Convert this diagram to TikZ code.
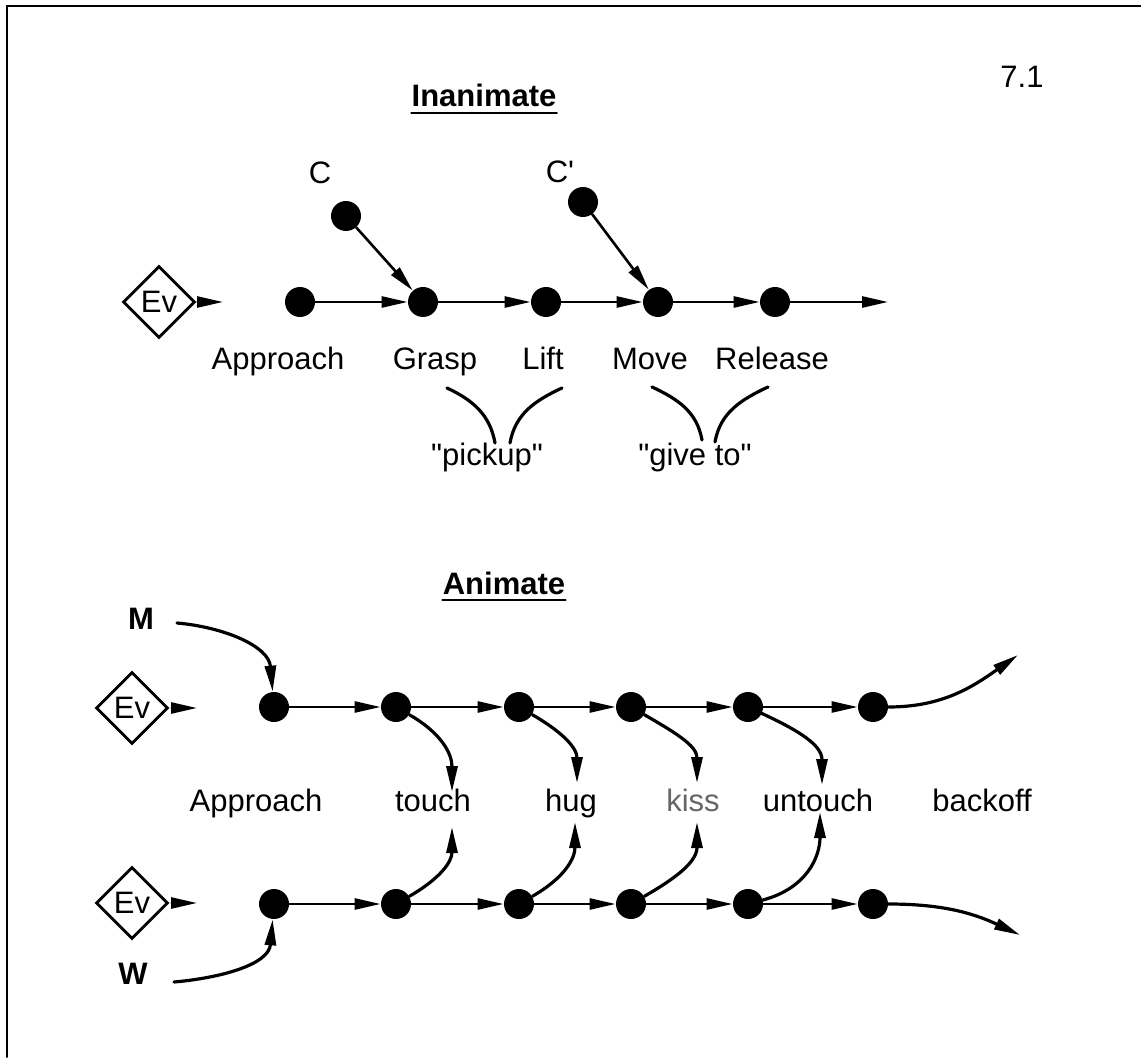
\documentclass[tikz,border=0pt]{standalone}
\usepackage{fontspec}
\setmainfont{Liberation Sans}
\usetikzlibrary{arrows.meta,shapes.geometric}

\begin{document}
\begin{tikzpicture}[x=0.5pt,y=0.5pt,line cap=round,font=\fontsize{15.5}{18}\selectfont]

    \def\yline{755}
    \def\ytop{350}
    \def\ybot{153}
    \def\ylabel{246}

    % Styles
    \tikzstyle{event}=[circle,fill,inner sep=0pt,minimum size=15pt]
    \tikzstyle{ev}=[diamond,draw,line width=1.4pt,inner sep=0pt,minimum size=36pt]
    \tikzstyle{arr}=[line width=1.3pt,-{Triangle[length=13pt,width=5.5pt]}]
    \tikzstyle{link}=[line width=1.6pt]
    \tikzstyle{arcline}=[link,looseness=1.1]
    \tikzstyle{title}=[anchor=base,inner sep=0pt,font=\fontsize{15.5}{18}\selectfont\bfseries]

    \useasboundingbox (0,0) rectangle (1141,1057);

    % frame
    \draw[line width=1pt] (7,0) -- (7,1051) -- (1141,1051);
    \node (num) at (1022,980) {7.1};

    % inanimate
    \node[title] (tI) at (484,950) {Inanimate};
    \draw[line width=1pt] ([yshift=-2.8pt]tI.south west) -- ([yshift=-2.8pt]tI.south east);

    \node[ev] (evI) at (159,\yline) {Ev};
    \coordinate (evIend) at (223,\yline);
    \draw[arr,shorten <=1.5pt] (evI) -- (evIend);

    \node[event] (p1) at (300,\yline) {};
    \node[event] (p2) at (423,\yline) {};
    \node[event] (p3) at (546,\yline) {};
    \node[event] (p4) at (658,\yline) {};
    \node[event] (p5) at (775,\yline) {};
    \coordinate (pend) at (888,\yline);
    \draw[arr] (p1) -- (p2);
    \draw[arr] (p2) -- (p3);
    \draw[arr] (p3) -- (p4);
    \draw[arr] (p4) -- (p5);
    \draw[arr] (p5) -- (pend);

    % containers
    \node (lC) at (320,884) {C};
    \node (lCc) at (560,885) {C\textquotesingle};
    \node[event] (cA) at (346,841) {};
    \node[event] (cB) at (583,855) {};
    \draw[arr] (cA) -- (p2);
    \draw[arr] (cB) -- (p4);

    \node[anchor=base] (lApproach) at (278,687) {Approach};
    \node[anchor=base] (lGrasp) at (435,687) {Grasp};
    \node[anchor=base] (lLift) at (543,687) {Lift};
    \node[anchor=base] (lMove) at (650,687) {Move};
    \node[anchor=base] (lRelease) at (772,687) {Release};

    % grouped actions
    \node[anchor=base] (gPick) at (487,592) {\textquotedbl pickup\textquotedbl};
    \node[anchor=base] (gGive) at (695,592) {\textquotedbl give to\textquotedbl};
    \draw[link] (447,669) to[out=-25,in=100] (495,614);
    \draw[link] (562,669) to[out=-155,in=80] (510,614);
    \draw[link] (652,670) to[out=-25,in=100] (702,617);
    \draw[link] (768,670) to[out=-155,in=80] (715,615);

    % animate
    \node[title] (tA) at (504,463) {Animate};
    \draw[line width=1pt] ([yshift=-2.8pt]tA.south west) -- ([yshift=-2.8pt]tA.south east);

    \node[ev] (evU) at (132,349) {Ev};
    \node[ev] (evL) at (132,154) {Ev};
    \coordinate (evUend) at (197,349);
    \coordinate (evLend) at (197,154);
    \draw[arr,shorten <=1.5pt] (evU) -- (evUend);
    \draw[arr,shorten <=1.5pt] (evL) -- (evLend);

    \foreach \n/\x in {1/274,2/396,3/519,4/631,5/748,6/873} {
        \node[event] (t\n) at (\x,\ytop) {};
        \node[event] (b\n) at (\x,\ybot) {};
    }
    \foreach \a/\b in {1/2,2/3,3/4,4/5,5/6} {
        \draw[arr] (t\a) -- (t\b);
        \draw[arr] (b\a) -- (b\b);
    }

    % actors
    \node[font=\fontsize{15.5}{18}\selectfont\bfseries] (M) at (141,438) {M};
    \node[font=\fontsize{15.5}{18}\selectfont\bfseries] (W) at (133,83) {W};
    \coordinate (mstart) at (177,434);
    \coordinate (wstart) at (174,75);
    \draw[arr,link] (mstart) to[out=-5,in=95] (t1);
    \draw[arr,link] (wstart) to[out=5,in=-95] (b1);

    \node[anchor=base] (aApproach) at (256,\ylabel) {Approach};
    \node[anchor=base] (aTouch) at (433,\ylabel) {touch};
    \node[anchor=base] (aHug) at (571,\ylabel) {hug};
    \node[anchor=base,text=black!60] (aKiss) at (693,\ylabel) {kiss};
    \node[anchor=base] (aUntouch) at (818,\ylabel) {untouch};
    \node[anchor=base] (aBackoff) at (982,\ylabel) {backoff};

    % shared actions
    \coordinate (dTouch) at (452,265);
    \coordinate (dHug) at (577,274);
    \coordinate (dKiss) at (697,274);
    \coordinate (dUntouch) at (822,272);
    \coordinate (uTouch) at (452,230);
    \coordinate (uHug) at (575,235);
    \coordinate (uKiss) at (697,235);
    \coordinate (uUntouch) at (820,245);
    \draw[arr,arcline] (t2) to[out=-30,in=90] (dTouch);
    \draw[arr,arcline] (t3) to[out=-30,in=90] (dHug);
    \draw[arr,arcline] (t4) to[out=-30,in=90] (dKiss);
    \draw[arr,arcline] (t5) to[out=-25,in=90] (dUntouch);
    \draw[arr,arcline] (b2) to[out=30,in=-90] (uTouch);
    \draw[arr,arcline] (b3) to[out=30,in=-90] (uHug);
    \draw[arr,arcline] (b4) to[out=30,in=-90] (uKiss);
    \draw[arr,arcline] (b5) to[out=15,in=-90] (uUntouch);

    % parting
    \coordinate (tEnd) at (1018,402);
    \coordinate (bEnd) at (1020,122);
    \draw[arr,link] (t6) to[out=0,in=-145] (tEnd);
    \draw[arr,link] (b6) to[out=0,in=155] (bEnd);

\end{tikzpicture}
\end{document}
